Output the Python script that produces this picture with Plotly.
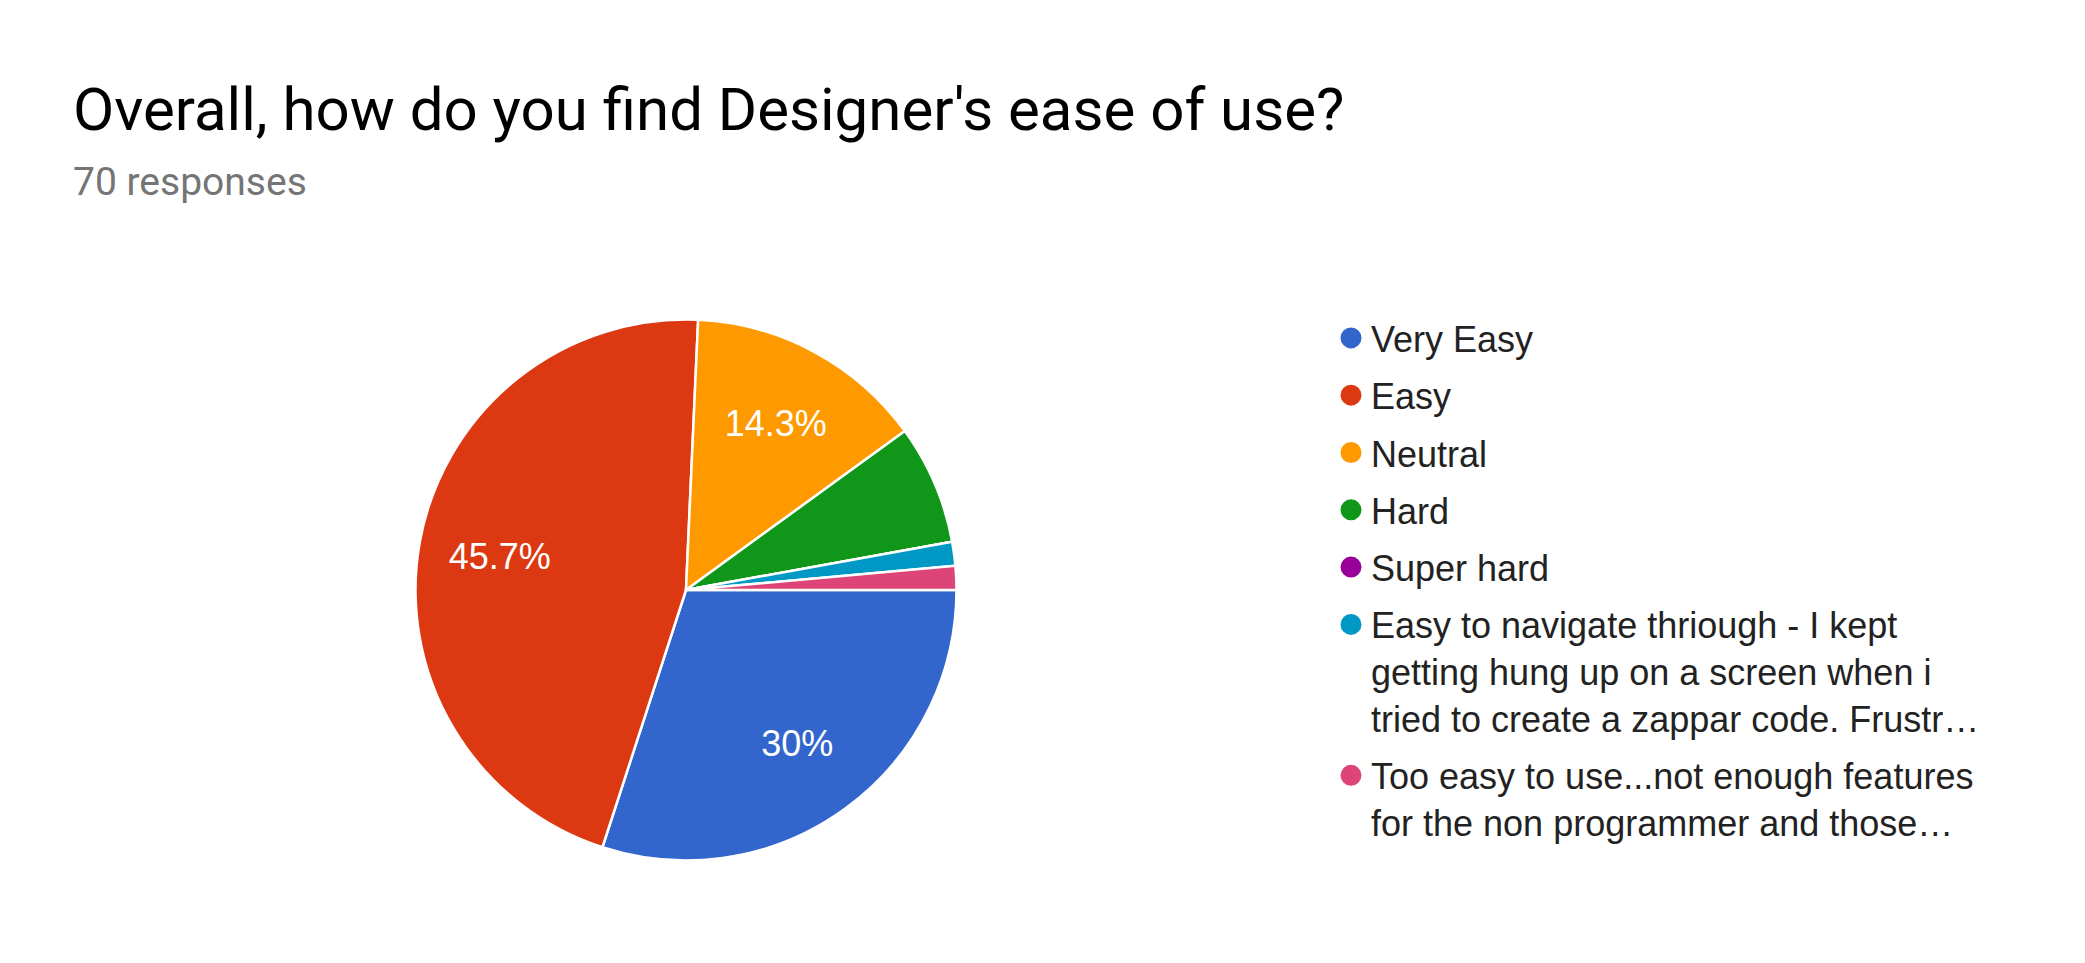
import plotly.graph_objects as go

# survey answers (70 responses)
labels = [
    "Very Easy",
    "Easy",
    "Neutral",
    "Hard",
    "Super hard",
    "Easy to navigate thriough - I kept<br>getting hung up on a screen when i<br>tried to create a zappar code. Frustr…",
    "Too easy to use...not enough features<br>for the non programmer and those…",
]
counts = [21, 32, 10, 5, 0, 1, 1]
colors = ["#3366cc", "#dc3912", "#ff9900", "#109618", "#990099", "#0099c6", "#dd4477"]

title = "Overall, how do you find Designer's ease of use?"
subtitle = "70 responses"

W, H = 2085, 963
total = sum(counts)

# pie centre / radius in px
cx, cy, rad = 678, 582, 270.5


def pct_label(v):
    # google style: 30%, 45.7% ... small slices get no label
    p = v / total * 100
    if p < 10:
        return ""
    return ("%.1f" % p).rstrip("0").rstrip(".") + "%"


slice_text = [pct_label(v) for v in counts]
pie_domain = dict(x=[(cx - rad) / W, (cx + rad) / W],
                  y=[(H - cy - rad) / H, (H - cy + rad) / H])

fig = go.Figure()

fig.add_trace(go.Pie(
    labels=labels,
    values=counts,
    textinfo="none",
    marker=dict(colors=colors, line=dict(color="white", width=2.5)),
    sort=False,
    direction="clockwise",
    rotation=90,
    showlegend=False,
    hoverinfo="label+value+percent",
    domain=pie_domain,
))

# transparent ring on top, only to push the % labels out towards the rim
fig.add_trace(go.Pie(
    labels=labels,
    values=counts,
    text=slice_text,
    textinfo="text",
    textposition="inside",
    insidetextorientation="horizontal",
    textfont=dict(family="Liberation Sans, Arial, sans-serif", size=36, color="white"),
    marker=dict(colors=["rgba(0,0,0,0)"] * len(counts), line=dict(width=0)),
    hole=0.4,
    sort=False,
    direction="clockwise",
    rotation=90,
    showlegend=False,
    hoverinfo="skip",
    domain=pie_domain,
))

# legend entries with round markers
for i, (lab, col) in enumerate(zip(labels, colors)):
    fig.add_trace(go.Scatter(
        x=[None], y=[None],
        mode="markers",
        name=lab,
        legendgroup="g%d" % i,
        marker=dict(color=col, size=16, line=dict(color=col, width=5)),
    ))

fig.add_annotation(
    text=title, xref="paper", yref="paper",
    x=62.5 / W, y=1 - 101 / H, xanchor="left", yanchor="middle",
    showarrow=False,
    font=dict(family="Roboto, sans-serif", size=60, color="#000000"),
)
fig.add_annotation(
    text=subtitle, xref="paper", yref="paper",
    x=62.5 / W, y=1 - 174 / H, xanchor="left", yanchor="middle",
    showarrow=False,
    font=dict(family="Roboto, sans-serif", size=39, color="#757575"),
)

fig.update_layout(
    width=W,
    height=H,
    margin=dict(l=0, r=0, t=0, b=0),
    paper_bgcolor="white",
    plot_bgcolor="white",
    xaxis=dict(visible=False),
    yaxis=dict(visible=False),
    legend=dict(
        x=1323 / W, y=1 - 300 / H,
        xanchor="left", yanchor="top",
        valign="top",
        tracegroupgap=7.5,
        font=dict(family="Liberation Sans, Arial, sans-serif", size=36, color="#222222"),
        bgcolor="rgba(0,0,0,0)",
        itemclick=False,
    ),
)

fig.write_html("out.html")
